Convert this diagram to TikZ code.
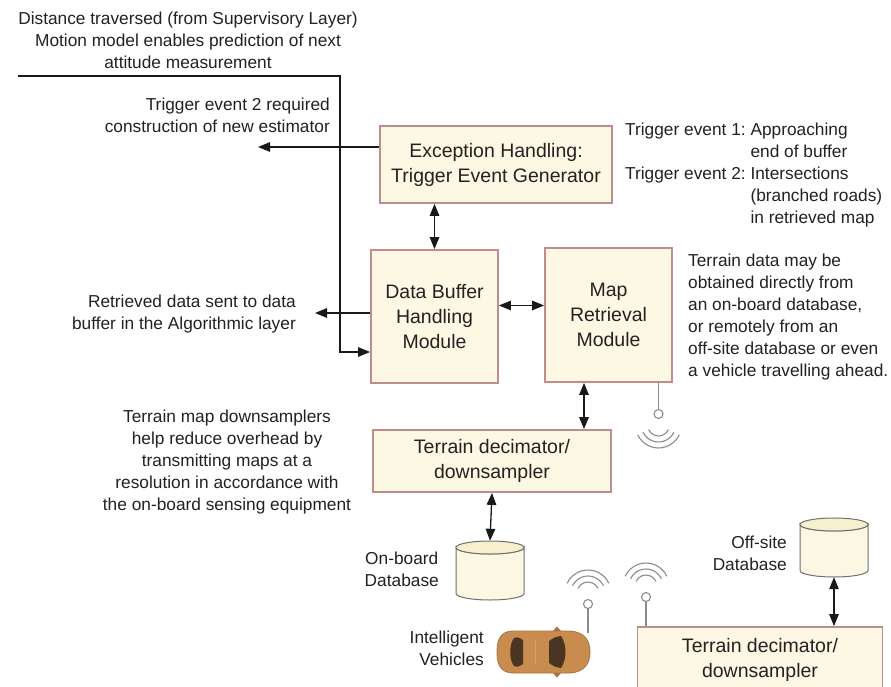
\documentclass[tikz,border=0pt]{standalone}
\usepackage{fontspec}
\setmainfont{Liberation Sans}
\usetikzlibrary{arrows.meta}

\definecolor{boxfill}{HTML}{FDF8E4}
\definecolor{boxedge}{HTML}{C08C8C}
\definecolor{ink}{HTML}{222222}
\definecolor{dbfill}{HTML}{FBF7E2}
\definecolor{dbcap}{HTML}{F7F0CC}
\definecolor{dbedge}{HTML}{707070}
\definecolor{wave}{HTML}{8C8C8C}
\definecolor{carmid}{HTML}{E6B074}
\definecolor{carside}{HTML}{C98C4F}
\definecolor{caredge}{HTML}{A8733E}
\definecolor{carglass}{HTML}{4A3422}

% database cylinder: name, centre x, centre y (68 wide, 59 high)
\newcommand\dbcylinder[3]{%
  \node[dbbox] (#1) at (#2,#3) {};
  \path[dbbody] (#1.center) ++(-34,-23) -- ++(0,46)
    arc[start angle=180,end angle=0,x radius=34,y radius=6.5]
    -- ++(0,-46)
    arc[start angle=0,end angle=180,x radius=34,y radius=6.5] -- cycle;
  \path[dbtop] (#1.center) ++(0,-23) ellipse[x radius=34,y radius=6.5];
}
% radio waves around a centre point, opening up or down
\newcommand\wavesup[1]{%
  \foreach \r in {11,17,23}
    \draw[wave] ([shift={(205:\r)}]#1) arc[start angle=205,end angle=335,radius=\r];}
\newcommand\wavesdown[1]{%
  \foreach \r in {11,17,23}
    \draw[wave] ([shift={(25:\r)}]#1) arc[start angle=25,end angle=155,radius=\r];}

\begin{document}
\begin{tikzpicture}[x=1pt,y=-1pt,
  module/.style={draw=boxedge, line width=1.8pt, fill=boxfill, text=ink,
    font=\fontsize{19.5}{25}\selectfont, align=center, inner sep=0pt},
  note/.style={text=ink, font=\fontsize{17.3}{22}\selectfont, inner sep=0pt},
  link/.style={line width=1.3pt, draw=black!90},
  onearrow/.style={-{Triangle[length=12pt,width=9.5pt]}},
  twoarrow/.style={{Triangle[length=12pt,width=9.5pt]}-{Triangle[length=12pt,width=9.5pt]}},
  dbbox/.style={minimum width=68pt, minimum height=59pt, inner sep=0pt},
  dbbody/.style={fill=dbfill, draw=dbedge, line width=1pt},
  dbtop/.style={fill=dbcap, draw=dbedge, line width=1pt},
  wave/.style={draw=wave, line width=1.1pt},
]
\useasboundingbox (0,0) rectangle (891,687);
\fill[white] (0,0) rectangle (891,687);

% ---- modules ----
\node[module, minimum width=232pt, minimum height=77pt] (exc) at (496,164.5)
  {Exception Handling:\\Trigger Event Generator};
\node[module, minimum width=127pt, minimum height=133pt] (dbuf) at (434.5,316.5)
  {Data Buffer\\Handling\\Module};
\node[module, minimum width=127pt, minimum height=134pt] (map) at (608.5,315)
  {Map\\Retrieval\\Module};
\node[module, minimum width=238pt, minimum height=62pt] (terr) at (492,461)
  {Terrain decimator/\\downsampler};
\node[module, minimum width=245pt, minimum height=66pt] (terr2) at (760,660)
  {Terrain decimator/\\downsampler};

% ---- databases ----
\dbcylinder{onboard}{490}{570.5}
\dbcylinder{offsite}{834}{547.5}

% ---- notes ----
\node[note, align=center] (motion) at (188,40)
  {Distance traversed (from Supervisory Layer)\\Motion model enables prediction of next\\attitude measurement};
\node[note, align=right, anchor=east] (newest) at (330,115)
  {Trigger event 2 required\\construction of new estimator};
\node[note, align=right, anchor=east] (sent) at (296,314)
  {Retrieved data sent to data\\buffer in the Algorithmic layer};
\node[note, align=center] (downs) at (227,462)
  {Terrain map downsamplers\\help reduce overhead by\\transmitting maps at a\\resolution in accordance with\\the on-board sensing equipment};
\node[note, anchor=west] (events) at (625,175)
  {\begin{tabular}{@{}l@{\ }l@{}}Trigger event 1:&Approaching\\&end of buffer\\Trigger event 2:&Intersections\\&(branched roads)\\&in retrieved map\end{tabular}};
\node[note, align=left, anchor=west] (source) at (688,317)
  {Terrain data may be\\obtained directly from\\an on-board database,\\or remotely from an\\off-site database or even\\a vehicle travelling ahead.};
\node[note, align=center, anchor=east] (onlabel) at (439,569) {On-board\\Database};
\node[note, align=right, anchor=east] (carlabel) at (484,648) {Intelligent\\Vehicles};
\node[note, align=right, anchor=east] (offlabel) at (787,553) {Off-site\\Database};

% ---- connectors ----
\coordinate (feed) at (18,76);
\coordinate (bend) at (340,352);
\draw[link, onearrow] (feed) -| (bend) -- (bend -| dbuf.west);
\coordinate (trig) at (258,147);
\draw[link, onearrow] (exc.west |- trig) -- (trig);
\coordinate (ret) at (315,313);
\draw[link, onearrow] (ret -| dbuf.west) -- (ret);
\draw[link, twoarrow] (dbuf.north) -- (dbuf.north |- exc.south);
\draw[link, twoarrow] ([yshift=11pt]dbuf.east) coordinate (bm) -- (bm -| map.west);
\draw[link, twoarrow] ([xshift=-24.5pt]map.south) coordinate (mt) -- (mt |- terr.north);
\draw[link, twoarrow] (terr.south) -- (onboard.north);
\draw[link, twoarrow] (offsite.south) -- (offsite.south |- terr2.north);

% ---- car (top view) ----
\path[top color=carside, middle color=carmid, bottom color=carside, draw=caredge, line width=0.8pt]
  (512,631) -- (570,631) .. controls (584,632) and (590,640) .. (590,652)
  .. controls (590,664) and (584,672) .. (570,673) -- (512,673)
  .. controls (500,672) and (497,664) .. (497,652)
  .. controls (497,640) and (500,632) .. (512,631) -- cycle;
\fill[caredge] (553,631) -- (557,626.5) -- (561,631) -- cycle;
\fill[caredge] (553,673) -- (557,677.5) -- (561,673) -- cycle;
\draw[carside, line width=0.6pt] (524,639) -- (549,639) (524,665) -- (549,665);
\draw[carside!80, line width=0.5pt] (535,640) -- (535,664);
\fill[carglass] (514,638) .. controls (518,637) .. (523,640) -- (523,664)
  .. controls (518,667) .. (514,666) .. controls (509,660) and (509,644) .. (514,638) -- cycle;
\fill[carglass] (549,641) .. controls (555,637) .. (561,636)
  .. controls (567,645) and (567,659) .. (561,668)
  .. controls (555,667) .. (549,663) -- cycle;

% ---- antennas ----
\coordinate (ant1) at (588,604);
\coordinate (ant1w) at (588,593);
\coordinate (ant1foot) at (588,633);
\draw[wave] (ant1) circle[radius=4.5];
\draw[wave] ([yshift=-4.5pt]ant1) -- (ant1foot);
\wavesup{ant1w}

\coordinate (ant2) at (646,597);
\coordinate (ant2w) at (646,586);
\draw[wave] (ant2) circle[radius=4.5];
\draw[wave] ([yshift=-4.5pt]ant2) -- (ant2 |- terr2.north);
\wavesup{ant2w}

\coordinate (ant3) at (658.5,414);
\coordinate (ant3w) at (658.5,425);
\draw[wave] (ant3) circle[radius=4.5];
\draw[wave] (map.south -| ant3) -- ([yshift=4.5pt]ant3);
\wavesdown{ant3w}
\end{tikzpicture}
\end{document}
